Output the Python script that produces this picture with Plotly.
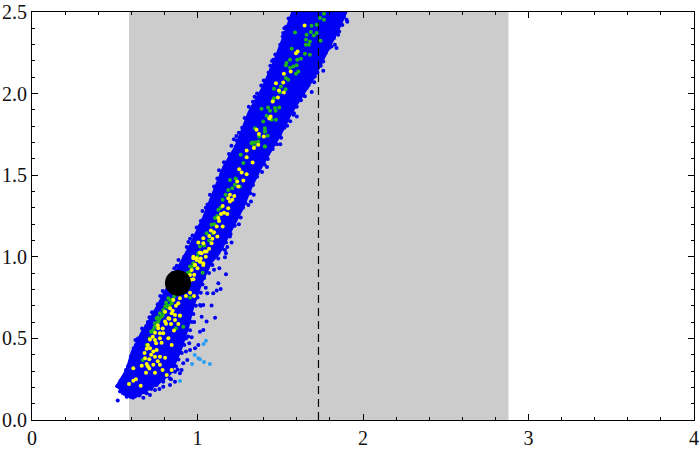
import plotly.graph_objects as go

# allowed range / reference value
range_lo = 0.586
range_hi = 2.879
ref_x = 1.731
best_x = [0.882]
best_y = [0.84]

# dense core of the blue cloud, read as an outline
core_x = [.514, .550, .580, .610, .670, .731, .785, .840, .894, .972, 1.045, 1.093, 1.166, 1.238, 1.317, 1.395,
          1.468, 1.528, 1.570, 1.582, 1.890, 1.842, 1.758, 1.697, 1.619, 1.558, 1.498, 1.437, 1.377, 1.317, 1.268,
          1.196, 1.123, 1.075, 1.015, .965, .935, .89, .83, .755, .610, .544]
core_y = [.196, .264, .306, .411, .533, .631, .736, .846, .938, 1.085, 1.244, 1.367, 1.551, 1.674, 1.882, 2.023,
          2.188, 2.348, 2.470, 2.5, 2.5, 2.391, 2.225, 2.103, 1.980, 1.882, 1.759, 1.655, 1.551, 1.428, 1.306,
          1.165, 1.024, .969, .840, .693, .570, .429, .29, .227, .141, .172]

blue_x = [.518, .516, .532, .552, .548, .568, .612, .596, .673, .713, .743, .793, .834, .864, .904, .938, .955, .985,
          1.005, 1.015, 1.035, 1.055, 1.106, 1.085, 1.035, 1.059, 1.116, 1.140, 1.126, 1.172, 1.166, 1.095, 1.015,
          1.025, .944, .965, .914, .894, .864, .834, .793, .753, .693, .642, .622, .572, .542, .562,
          1.307, 1.323, 1.261, 1.216, 1.196, 1.206, 1.172, 1.172, 1.132, 1.236, 1.106, 1.085, 1.015, .975, 1.166,
          1.518, 1.444, 1.367, 1.327, 1.232, 1.709, 1.649, 1.659, 1.583, 1.542, 1.498, 1.830, 1.810, 1.780, 1.760,
          1.856, 1.901, 1.548, 1.458, 1.337, 1.287]
blue_y = [.119, .208, .174, .164, .255, .306, .419, .143, .137, .153, .184, .204, .215, .235, .306, .368, .429, .439,
          .460, .541, .552, .603, .627, .701, .705, .776, .793, .803, .838, .893, .997, .776, .705,
          .633, .511, .507, .347, .286, .296, .255, .235, .215, .164, .153, .147, .143, .215, .276,
          1.318, 1.339, 1.241, 1.237, 1.124, 1.087, 1.087, 1.022, .930, 1.713, 1.410, 1.353, 1.190, 1.083, 1.042,
          2.371, 2.146, 1.962, 1.880, 1.676, 2.105, 1.983, 2.034, 1.880, 1.803, 1.748, 2.299, 2.289, 2.309, 2.197,
          2.381, 2.452, 2.401, 2.207, 1.921, 1.758]

# points along the fuzzy rim of the cloud
rim_left_x = [.56, .573, .592, .598, .615, .628, .64, .655, .665, .69, .70, .725, .745, .76, .775, .80, .82, .85, .875,
              .885, .92, .935, .955, .97, .995, 1.02, 1.03, 1.06, 1.075, 1.10, 1.12, 1.145, 1.16, 1.19, 1.205, 1.22,
              1.25, 1.27, 1.285, 1.31, 1.335, 1.36, 1.385, 1.40, 1.43, 1.45, 1.47, 1.50, 1.515, 1.535, 1.55]
rim_left_y = [.245, .30, .34, .39, .44, .46, .50, .50, .56, .575, .60, .66, .665, .71, .76, .78, .83, .90, .945,
              .98, 1.0, 1.06, 1.11, 1.13, 1.18, 1.22, 1.28, 1.32, 1.38, 1.43, 1.48, 1.51, 1.58, 1.63, 1.68, 1.72,
              1.76, 1.79, 1.85, 1.92, 1.95, 2.0, 2.05, 2.08, 2.13, 2.20, 2.24, 2.30, 2.35, 2.41, 2.46]
rim_right_x = [1.885, 1.875, 1.85, 1.825, 1.795, 1.775, 1.745, 1.725, 1.705, 1.67, 1.64, 1.625, 1.60, 1.58, 1.56, 1.525,
               1.505, 1.48, 1.455, 1.425, 1.405, 1.39, 1.36, 1.335, 1.32, 1.29, 1.275, 1.24, 1.225, 1.20, 1.165, 1.15,
               1.125, 1.09, 1.07, 1.04, 1.03, 1.02, 1.0, .99, .975, .965, .955, .93, .92, .905, .885, .87, .85, .82,
               .79, .76, .72, .68, .65]
rim_right_y = [2.47, 2.42, 2.36, 2.34, 2.28, 2.25, 2.17, 2.13, 2.07, 2.05, 1.99, 1.96, 1.92, 1.87, 1.83, 1.79,
               1.73, 1.69, 1.66, 1.60, 1.565, 1.52, 1.49, 1.44, 1.39, 1.33, 1.30, 1.25, 1.19, 1.14, 1.10, 1.05,
               .99, .95, .90, .87, .83, .78, .75, .70, .65, .60, .55, .50, .46, .41, .37, .33, .30, .27,
               .25, .23, .19, .17, .15]

# a few looser points outside the rim
fuzz_x = [.98, .95, .93, .88, .84, .77, 1.02, 1.05, 1.10, 1.18, 1.25, 1.34, 1.42, 1.50, 1.60, 1.69, 1.76, 1.84, 1.905,
          .535, .58, .625, .71, .79, .86, .945, 1.05, 1.13, 1.235, 1.345, 1.44, 1.525]
fuzz_y = [.60, .47, .42, .31, .25, .19, .70, .81, .92, 1.06, 1.2, 1.38, 1.55, 1.69, 1.86, 2.01, 2.14, 2.28, 2.44,
          .24, .33, .49, .63, .79, .93, 1.09, 1.30, 1.53, 1.74, 1.98, 2.17, 2.40]

lightblue_x = [1.051, 1.037, .983, 1.005, 1.015, 1.039, 1.075, .967, .894]
lightblue_y = [.486, .466, .398, .378, .372, .356, .343, .343, .239]

green_x = [1.005, .955, 1.031, .955, .824, .844, .814, .793, .773, .753, .743, .733, .870, .914, .894, .783, .763,
           .834, .804, .693, .669,
           1.407, 1.407, 1.367, 1.327, 1.261, 1.277, 1.196, 1.226, 1.256, 1.186, 1.152, 1.126, 1.106, 1.085, 1.095,
           1.055, 1.015, .975, .955,
           1.764, 1.740, 1.764, 1.720, 1.689, 1.685, 1.720, 1.703, 1.659, 1.589, 1.655, 1.679, 1.655, 1.673, 1.744,
           1.569, 1.649, 1.679, 1.559, 1.603, 1.625, 1.538, 1.534, 1.559, 1.579, 1.599, 1.609, 1.595, 1.534, 1.548,
           1.504, 1.462, 1.532, 1.498, 1.462, 1.458, 1.387, 1.426, 1.468, 1.494, 1.472, 1.438, 1.418, 1.448, 1.474,
           1.397, 1.407, 1.407, 1.347, 1.373, 1.424, 1.331, 1.347, 1.407, 1.343,
           .80, .82, .79, .77, .85, .86, .74, .76, .81, .83, .88, .92, .94, .97, 1.0, 1.04, 1.07, 1.1, 1.12, 1.14,
           .71, .72, 1.17, 1.21, 1.23]
green_y = [1.022, .909, .903, .750, .746, .715, .705, .674, .654, .623, .593, .552, .562, .572, .637, .633, .603,
           .736, .695, .460, .368,
           1.768, 1.676, 1.706, 1.696, 1.625, 1.574, 1.471, 1.441, 1.431, 1.410, 1.349, 1.288, 1.237, 1.196, 1.145,
           1.145, 1.063, .961, .940,
           2.489, 2.463, 2.452, 2.422, 2.416, 2.377, 2.371, 2.356, 2.360, 2.375, 2.330, 2.320, 2.299, 2.299, 2.324,
           2.275, 2.244, 2.238, 2.207, 2.207, 2.213, 2.187, 2.173, 2.158, 2.166, 2.173, 2.136, 2.121, 2.095, 2.085,
           2.044, 2.030, 2.027, 2.009, 1.972, 1.958, 1.907, 1.915, 1.911, 1.915, 1.895, 1.895, 1.864, 1.840, 1.840,
           1.829, 1.788, 1.768, 1.788, 1.737, 1.741, 1.700, 1.700, 1.676, 1.676,
           .66, .69, .64, .62, .74, .76, .57, .63, .72, .70, .77, .85, .90, .94, 1.0, 1.07, 1.10, 1.2, 1.25, 1.30,
           .50, .54, 1.38, 1.42, 1.48]

yellow_x = [1.015, 1.045, .975, .995, 1.015, .985, .965, .955, 1.035, .975, .955, .930, .979, .894, .884, .854, .834,
            .804, .844, .824, .804, .864, .894, .864, .840, .884, .858, .763, .743, .773, .793, .713, .743, .773,
            .824, .783, .844, .713, .693, .733, .753, .773, .804, .743, .683, .709, .663, .693, .733, .773, .709,
            .789, .844, .743, .689, .814, .612, .612, .628, .586, .657,
            1.357, 1.371, 1.401, 1.367, 1.341, 1.297, 1.297, 1.333, 1.252, 1.267, 1.297, 1.277, 1.240, 1.246, 1.196,
            1.186, 1.222, 1.196, 1.152, 1.186, 1.142, 1.180, 1.126, 1.116, 1.152, 1.081, 1.035, 1.071, 1.120, 1.005,
            1.035, 1.085, 1.055, 1.025, .995, .975, 1.015, .985, 1.035,
            1.647, 1.605, 1.595, 1.563, 1.522, 1.474, 1.518, 1.492, 1.522, 1.486, 1.454, 1.442, 1.434,
            .76, .79, .81, .83, .85, .87, .73, .75, .70, .72, .68, .76, .70, .92, .94, .96, .98, 1.0, 1.02, 1.05,
            1.07, 1.09, 1.1, 1.13, 1.16, 1.21]
yellow_y = [1.026, 1.032, 1.001, .981, .970, .950, .919, .889, .950, .862, .780, .760, .760, .746, .715, .736, .684,
            .664, .654, .623, .603, .644, .640, .613, .588, .588, .548, .562, .535, .531, .531, .494, .490, .501,
            .501, .474, .460, .439, .437, .419, .429, .388, .382, .388, .378, .372, .333, .343, .339, .339, .315,
            .306, .306, .290, .290, .276, .317, .241, .249, .221, .210,
            1.778, 1.753, 1.737, 1.686, 1.666, 1.651, 1.610, 1.578, 1.537, 1.516, 1.506, 1.467, 1.461, 1.431, 1.380,
            1.359, 1.373, 1.339, 1.312, 1.298, 1.263, 1.263, 1.237, 1.186, 1.186, 1.161, 1.114, 1.128, 1.124, 1.087,
            1.083, 1.083, 1.032, 1.022, .991, .991, .971, .951, .961,
            2.418, 2.258, 2.248, 2.136, 2.121, 2.064, 2.068, 2.019, 2.007, 1.976, 1.952, 1.860, 1.848,
            .58, .56, .59, .62, .67, .70, .51, .47, .46, .40, .41, .36, .33, .82, .84, .86, .89, .93, .99, 1.0,
            1.05, 1.11, 1.15, 1.22, 1.27, 1.35]

BLUE = "#0000f5"
FONT = "Liberation Serif"


def dots(x, y, color, size=4):
    return go.Scatter(x=x, y=y, mode="markers", hoverinfo="skip",
                      marker=dict(color=color, size=size, line=dict(width=0)))


fig = go.Figure()
fig.add_trace(go.Scatter(x=core_x, y=core_y, mode="lines", fill="toself", fillcolor=BLUE,
                         line=dict(color=BLUE, width=5), hoverinfo="skip"))
fig.add_trace(dots(blue_x, blue_y, BLUE))
fig.add_trace(dots(rim_left_x, rim_left_y, BLUE))
fig.add_trace(dots(rim_right_x, rim_right_y, BLUE))
fig.add_trace(dots(fuzz_x, fuzz_y, BLUE))
fig.add_trace(dots(lightblue_x, lightblue_y, "#2a9df4"))
fig.add_trace(go.Scatter(x=[ref_x, ref_x], y=[0, 2.5], mode="lines", hoverinfo="skip",
                         line=dict(color="black", width=1.2, dash="8px,5px")))
fig.add_trace(dots(green_x, green_y, "#1fb41f"))
fig.add_trace(dots(yellow_x, yellow_y, "#ffff00"))
fig.add_trace(go.Scatter(x=best_x, y=best_y, mode="markers", hoverinfo="skip",
                         marker=dict(color="black", size=26, line=dict(width=0))))

fig.add_vrect(x0=range_lo, x1=range_hi, fillcolor="#cccccc", line_width=0, layer="below")

fig.update_layout(
    width=700, height=452,
    margin=dict(l=32, r=6, t=12, b=32),
    paper_bgcolor="white",
    plot_bgcolor="white",
    showlegend=False,
    font=dict(family=FONT, size=20, color="#111111"),
    xaxis=dict(
        range=[0, 4], tickvals=[0, 1, 2, 3, 4], ticktext=["0", "1", "2", "3", "4"], automargin=False,
        ticks="inside", ticklen=6, tickwidth=1, tickcolor="black",
        minor=dict(dtick=0.2, ticks="inside", ticklen=3, tickwidth=1, tickcolor="black"),
        showgrid=False, zeroline=False, showline=True, linecolor="black", linewidth=1, mirror="allticks",
    ),
    yaxis=dict(
        range=[0, 2.5], tickvals=[0, 0.5, 1, 1.5, 2, 2.5], ticktext=["0.0", "0.5", "1.0", "1.5", "2.0", "2.5"],
        automargin=False,
        ticks="inside", ticklen=6, tickwidth=1, tickcolor="black",
        minor=dict(dtick=0.1, ticks="inside", ticklen=3, tickwidth=1, tickcolor="black"),
        showgrid=False, zeroline=False, showline=True, linecolor="black", linewidth=1, mirror="allticks",
    ),
)

# the page's default 8px body margin would shift the whole chart
fig.write_html("out.html", config={"displayModeBar": False}, post_script="document.body.style.margin = '0';")
